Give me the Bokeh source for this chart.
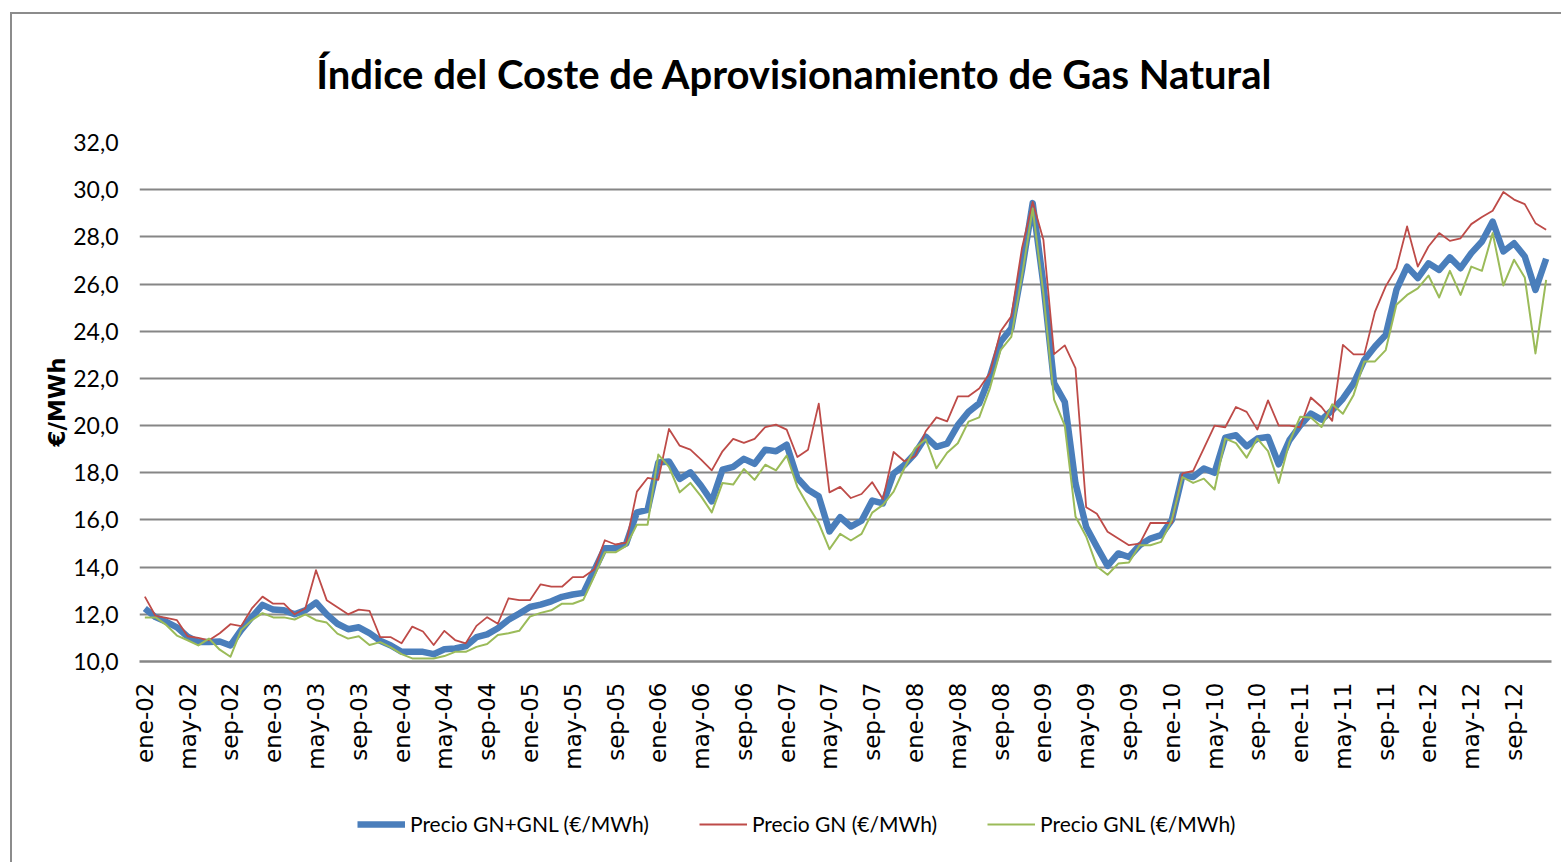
import math
from bokeh.plotting import figure
from bokeh.layouts import column
from bokeh.models import Range1d, FixedTicker, Legend, LegendItem, Label
from bokeh.embed import file_html
from bokeh.resources import INLINE

# ---------------- data ----------------
MESES = ["ene", "feb", "mar", "abr", "may", "jun", "jul", "ago", "sep", "oct", "nov", "dic"]
ANIOS = ["02", "03", "04", "05", "06", "07", "08", "09", "10", "11", "12"]
categorias = [f"{m}-{a}" for a in ANIOS for m in MESES]

precio_gn_gnl = [
    12.25, 11.88, 11.68, 11.45, 11.05, 10.83, 10.83, 10.85, 10.68, 11.33, 11.88, 12.40,
    12.20, 12.17, 12.00, 12.17, 12.50, 12.00, 11.60, 11.37, 11.45, 11.20, 10.88, 10.68,
    10.41, 10.41, 10.41, 10.31, 10.52, 10.55, 10.65, 11.03, 11.15, 11.41, 11.77, 12.03,
    12.31, 12.41, 12.55, 12.74, 12.84, 12.91, 13.85, 14.80, 14.80, 15.00, 16.32, 16.43,
    18.44, 18.48, 17.74, 18.02, 17.45, 16.79, 18.13, 18.25, 18.59, 18.38, 18.98, 18.91,
    19.19, 17.78, 17.28, 17.00, 15.51, 16.12, 15.72, 15.97, 16.82, 16.70, 17.97, 18.33,
    18.82, 19.53, 19.10, 19.24, 20.02, 20.58, 20.94, 22.07, 23.55, 24.12, 26.60, 29.43,
    26.00, 21.80, 21.00, 17.55, 15.70, 14.86, 14.05, 14.58, 14.43, 14.93, 15.21, 15.36,
    15.99, 17.89, 17.82, 18.18, 18.00, 19.49, 19.59, 19.12, 19.45, 19.52, 18.36, 19.38,
    20.00, 20.51, 20.25, 20.65, 21.14, 21.79, 22.78, 23.35, 23.84, 25.75, 26.74, 26.25,
    26.88, 26.60, 27.13, 26.67, 27.31, 27.80, 28.65, 27.38, 27.73, 27.17, 25.75, 27.07,
]

precio_gn = [
    12.75, 11.93, 11.85, 11.75, 11.07, 11.00, 10.90, 11.20, 11.58, 11.50, 12.25, 12.75,
    12.45, 12.45, 12.00, 12.25, 13.87, 12.60, 12.30, 12.00, 12.20, 12.15, 11.03, 11.03,
    10.77, 11.48, 11.27, 10.70, 11.30, 10.91, 10.77, 11.51, 11.88, 11.60, 12.68, 12.60,
    12.60, 13.27, 13.17, 13.17, 13.58, 13.58, 13.90, 15.14, 14.96, 15.04, 17.20, 17.78,
    17.70, 19.86, 19.15, 18.98, 18.56, 18.10, 18.91, 19.44, 19.27, 19.44, 19.94, 20.04,
    19.83, 18.67, 18.98, 20.93, 17.17, 17.40, 16.93, 17.10, 17.60, 16.88, 18.88, 18.49,
    18.70, 19.76, 20.35, 20.18, 21.24, 21.24, 21.57, 22.23, 24.00, 24.63, 27.53, 29.48,
    27.88, 23.03, 23.40, 22.44, 16.54, 16.26, 15.50, 15.21, 14.93, 15.00, 15.87, 15.87,
    15.87, 17.97, 18.08, 19.03, 20.00, 19.93, 20.79, 20.58, 19.83, 21.07, 20.00, 20.00,
    19.93, 21.19, 20.79, 20.20, 23.42, 23.02, 23.02, 24.83, 25.90, 26.67, 28.44, 26.74,
    27.59, 28.16, 27.83, 27.94, 28.54, 28.84, 29.11, 29.90, 29.58, 29.39, 28.58, 28.30,
]

precio_gnl = [
    11.87, 11.87, 11.55, 11.10, 10.90, 10.68, 10.97, 10.50, 10.20, 11.33, 11.75, 12.05,
    11.87, 11.87, 11.78, 12.00, 11.75, 11.65, 11.18, 10.97, 11.07, 10.70, 10.82, 10.60,
    10.31, 10.13, 10.13, 10.13, 10.23, 10.41, 10.41, 10.62, 10.74, 11.12, 11.20, 11.30,
    11.90, 12.06, 12.17, 12.45, 12.45, 12.62, 13.60, 14.63, 14.63, 14.90, 15.80, 15.80,
    18.77, 18.25, 17.17, 17.57, 17.00, 16.32, 17.57, 17.50, 18.16, 17.70, 18.34, 18.10,
    18.73, 17.40, 16.60, 15.87, 14.76, 15.41, 15.13, 15.41, 16.31, 16.64, 17.20, 18.19,
    19.04, 19.42, 18.19, 18.85, 19.25, 20.17, 20.35, 21.58, 23.20, 23.76, 26.36, 29.20,
    25.60, 21.10, 20.00, 16.15, 15.30, 14.03, 13.68, 14.15, 14.20, 14.93, 14.93, 15.07,
    15.99, 17.82, 17.57, 17.75, 17.29, 19.45, 19.26, 18.64, 19.45, 18.92, 17.57, 19.30,
    20.37, 20.34, 19.94, 20.90, 20.50, 21.30, 22.72, 22.72, 23.20, 25.12, 25.54, 25.82,
    26.36, 25.43, 26.56, 25.54, 26.74, 26.56, 28.16, 25.94, 27.03, 26.28, 23.06, 26.18,
]

y_ticks = [10, 12, 14, 16, 18, 20, 22, 24, 26, 28, 30, 32]
x_tick_step = 4

titulo = "Índice del Coste de Aprovisionamiento de Gas Natural"
eje_y = "€/MWh"
series_labels = ["Precio GN+GNL (€/MWh)", "Precio GN (€/MWh)", "Precio GNL (€/MWh)"]
colores = ["#4A7EBB", "#BE4B48", "#9BBB59"]
grosores = [6.5, 1.8, 2]


def strip(height):
    f = figure(
        width=1549, height=height,
        output_backend="svg", toolbar_location=None,
        x_range=Range1d(0, 1), y_range=Range1d(0, 1),
        min_border_left=0, min_border_right=0, min_border_top=0, min_border_bottom=0,
    )
    f.axis.visible = False
    f.grid.grid_line_color = None
    f.outline_line_color = None
    f.border_fill_color = "white"
    f.background_fill_color = "white"
    return f


# ---------------- title strip ----------------
pt = strip(108)
pt.add_layout(Label(
    x=655, y=49, x_units="screen", y_units="screen",
    text=titulo, text_align="center", text_baseline="alphabetic",
    text_font="Lato", text_font_style="bold",
    text_font_size="40px", text_color="black",
))

# ---------------- main figure ----------------
x = list(range(len(categorias)))

p = figure(
    width=1549, height=667,
    output_backend="svg", toolbar_location=None,
    x_range=Range1d(-0.5, len(categorias) - 0.5),
    y_range=Range1d(10, 32),
    min_border_left=127, min_border_right=10,
    min_border_top=20, min_border_bottom=128,
)
p.outline_line_color = None
p.background_fill_color = "white"
p.border_fill_color = "white"

# y axis
yt = FixedTicker(ticks=y_ticks)
p.yaxis.ticker = yt
p.yaxis.major_label_overrides = {v: f"{v:.1f}".replace(".", ",") for v in y_ticks}
p.yaxis.axis_line_color = None
p.yaxis.major_tick_line_color = None
p.yaxis.minor_tick_line_color = None
p.yaxis.major_label_text_font = "Lato"
p.yaxis.major_label_text_font_size = "23px"
p.yaxis.major_label_text_color = "black"
p.yaxis.major_label_standoff = 15
p.yaxis.axis_label = eje_y
p.yaxis.axis_label_text_font = "DejaVu Sans"
p.yaxis.axis_label_text_font_style = "bold"
p.yaxis.axis_label_text_font_size = "23px"
p.yaxis.axis_label_text_color = "black"
p.yaxis.axis_label_standoff = 0

# x axis
xticks = list(range(0, len(categorias), x_tick_step))
p.xaxis.ticker = FixedTicker(ticks=xticks)
p.xaxis.major_label_overrides = {i: categorias[i] for i in xticks}
p.xaxis.major_label_orientation = math.pi / 2
p.xaxis.axis_line_color = "#868686"
p.xaxis.axis_line_width = 2.5
p.xaxis.major_tick_line_color = None
p.xaxis.minor_tick_line_color = None
p.xaxis.major_label_text_font = "DejaVu Sans"
p.xaxis.major_label_text_font_size = "23px"
p.xaxis.major_label_text_color = "black"
p.xaxis.major_label_standoff = 15

# grid
p.xgrid.grid_line_color = None
p.ygrid.ticker = yt
p.ygrid.grid_line_color = "#868686"
p.ygrid.grid_line_width = 2

# lines
series = [precio_gn_gnl, precio_gn, precio_gnl]
for vals, col, lw in zip(series, colores, grosores):
    p.line(x, vals, line_color=col, line_width=lw, line_join="round")

# ---------------- legend strip ----------------
pl = strip(73)

items = []
nan = float("nan")
for lab, col, lw in zip(series_labels, colores, grosores):
    # invisible proxy line (NaN data) only used to draw the legend sample
    r = pl.line([nan, nan], [nan, nan], line_color=col, line_width=lw)
    items.append(LegendItem(label=lab, renderers=[r]))

legend = Legend(
    items=items,
    orientation="horizontal",
    location=(218, 26),
    glyph_width=48, glyph_height=20,
    label_standoff=5, spacing=50,
    padding=0, margin=0,
    border_line_color=None, background_fill_alpha=0,
    label_text_font="Lato",
    label_text_font_size="21px",
    label_text_color="black",
)
pl.add_layout(legend)

layout = column(
    pt, p, pl,
    styles={
        "margin-left": "10px", "margin-top": "12px",
        "border-left": "2px solid #8c8c8c", "border-top": "2px solid #8c8c8c",
    },
)

open("out.html", "w").write(file_html(layout, INLINE))
